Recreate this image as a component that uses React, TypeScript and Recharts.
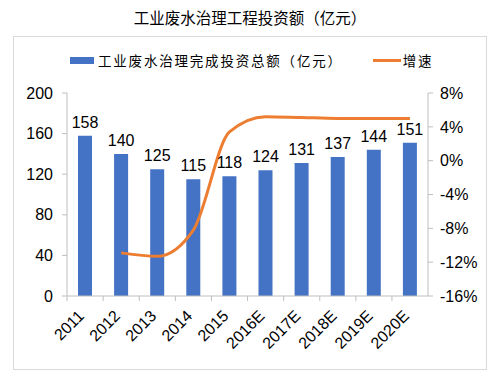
import { ComposedChart, Bar, Line, XAxis, YAxis, LabelList } from "recharts";

const years = ["2011", "2012", "2013", "2014", "2015", "2016E", "2017E", "2018E", "2019E", "2020E"];
const investment = [158, 140, 125, 115, 118, 124, 131, 137, 144, 151];
const growth = [null, -10.9, -11.3, -8.2, 3.4, 5.2, 5.1, 5.0, 5.0, 5.0];

const leftTicks = [0, 40, 80, 120, 160, 200];
const rightTicks = [-16, -12, -8, -4, 0, 4, 8];

const data = years.map((year, i) => ({ year, investment: investment[i], growth: growth[i] }));

const BLUE = "#4472C4";
const ORANGE = "#ED7D31";
const AXIS = "#bfbfbf";
const NUM_FONT = "'Liberation Sans', Arial, sans-serif";
const CJK_FONT = "'Noto Sans CJK SC', 'Noto Sans', sans-serif";
const HALF_BAND = 18;

function XTick(props: any) {
  const { x, y, payload } = props;
  return (
    <g>
      <line x1={x - HALF_BAND} y1={y - 8} x2={x - HALF_BAND} y2={y - 3} stroke={AXIS} />
      <text
        x={x}
        y={y + 13}
        textAnchor="end"
        transform={`rotate(-45, ${x}, ${y + 13})`}
        fontSize={16}
        fontFamily={NUM_FONT}
        fill="#000"
      >
        {payload.value}
      </text>
    </g>
  );
}

function ChartLegend() {
  return (
    <div
      style={{
        position: "absolute",
        top: 51,
        left: 0,
        width: 500,
        display: "flex",
        alignItems: "center",
        fontFamily: CJK_FONT,
        fontSize: 13.5,
        lineHeight: "18px",
        color: "#000",
      }}
    >
      <span style={{ display: "inline-block", width: 24, height: 7, background: BLUE, marginLeft: 70, marginRight: 4 }} />
      <span style={{ letterSpacing: 1.8 }}>工业废水治理完成投资总额（亿元）</span>
      <span style={{ display: "inline-block", width: 28, height: 3, background: ORANGE, marginLeft: 30, marginRight: 2 }} />
      <span style={{ letterSpacing: 1.8 }}>增速</span>
    </div>
  );
}

export default function App() {
  return (
    <div style={{ position: "absolute", left: 0, top: 0, width: 500, height: 377, background: "#fff" }}>
      <div
        style={{
          position: "absolute",
          top: 6,
          left: 0,
          width: 500,
          textAlign: "center",
          fontFamily: CJK_FONT,
          fontSize: 15.5,
          color: "#000",
        }}
      >
        工业废水治理工程投资额（亿元）
      </div>
      <div
        style={{
          position: "absolute",
          left: 13,
          top: 36,
          width: 474,
          height: 334,
          border: "1px solid #d9d9d9",
          boxSizing: "border-box",
        }}
      />
      <ChartLegend />
      <div style={{ position: "absolute", left: 0, top: 0 }}>
        <ComposedChart width={500} height={377} data={data} margin={{ top: 93, right: 12, bottom: 26, left: 13 }}>
          <XAxis
            dataKey="year"
            height={55}
            stroke={AXIS}
            tickLine={false}
            tick={<XTick />}
            interval={0}
          />
          <YAxis
            yAxisId="left"
            domain={[0, 200]}
            ticks={leftTicks}
            width={54}
            stroke={AXIS}
            tickSize={5}
            tickMargin={9}
            tick={{ fontSize: 16, fill: "#000", fontFamily: NUM_FONT }}
          />
          <YAxis
            yAxisId="right"
            orientation="right"
            domain={[-16, 8]}
            ticks={rightTicks}
            width={60}
            stroke={AXIS}
            tickSize={5}
            tickMargin={7}
            tickFormatter={(v: number) => `${v}%`}
            tick={{ fontSize: 16, fill: "#000", fontFamily: NUM_FONT }}
          />
          <Bar yAxisId="left" dataKey="investment" fill={BLUE} barSize={14} isAnimationActive={false}>
            <LabelList
              dataKey="investment"
              position="top"
              offset={8}
              fontSize={16}
              fill="#000"
              fontFamily={NUM_FONT}
            />
          </Bar>
          <Line
            yAxisId="right"
            dataKey="growth"
            type="monotone"
            stroke={ORANGE}
            strokeWidth={3}
            dot={false}
            isAnimationActive={false}
          />
        </ComposedChart>
      </div>
    </div>
  );
}
